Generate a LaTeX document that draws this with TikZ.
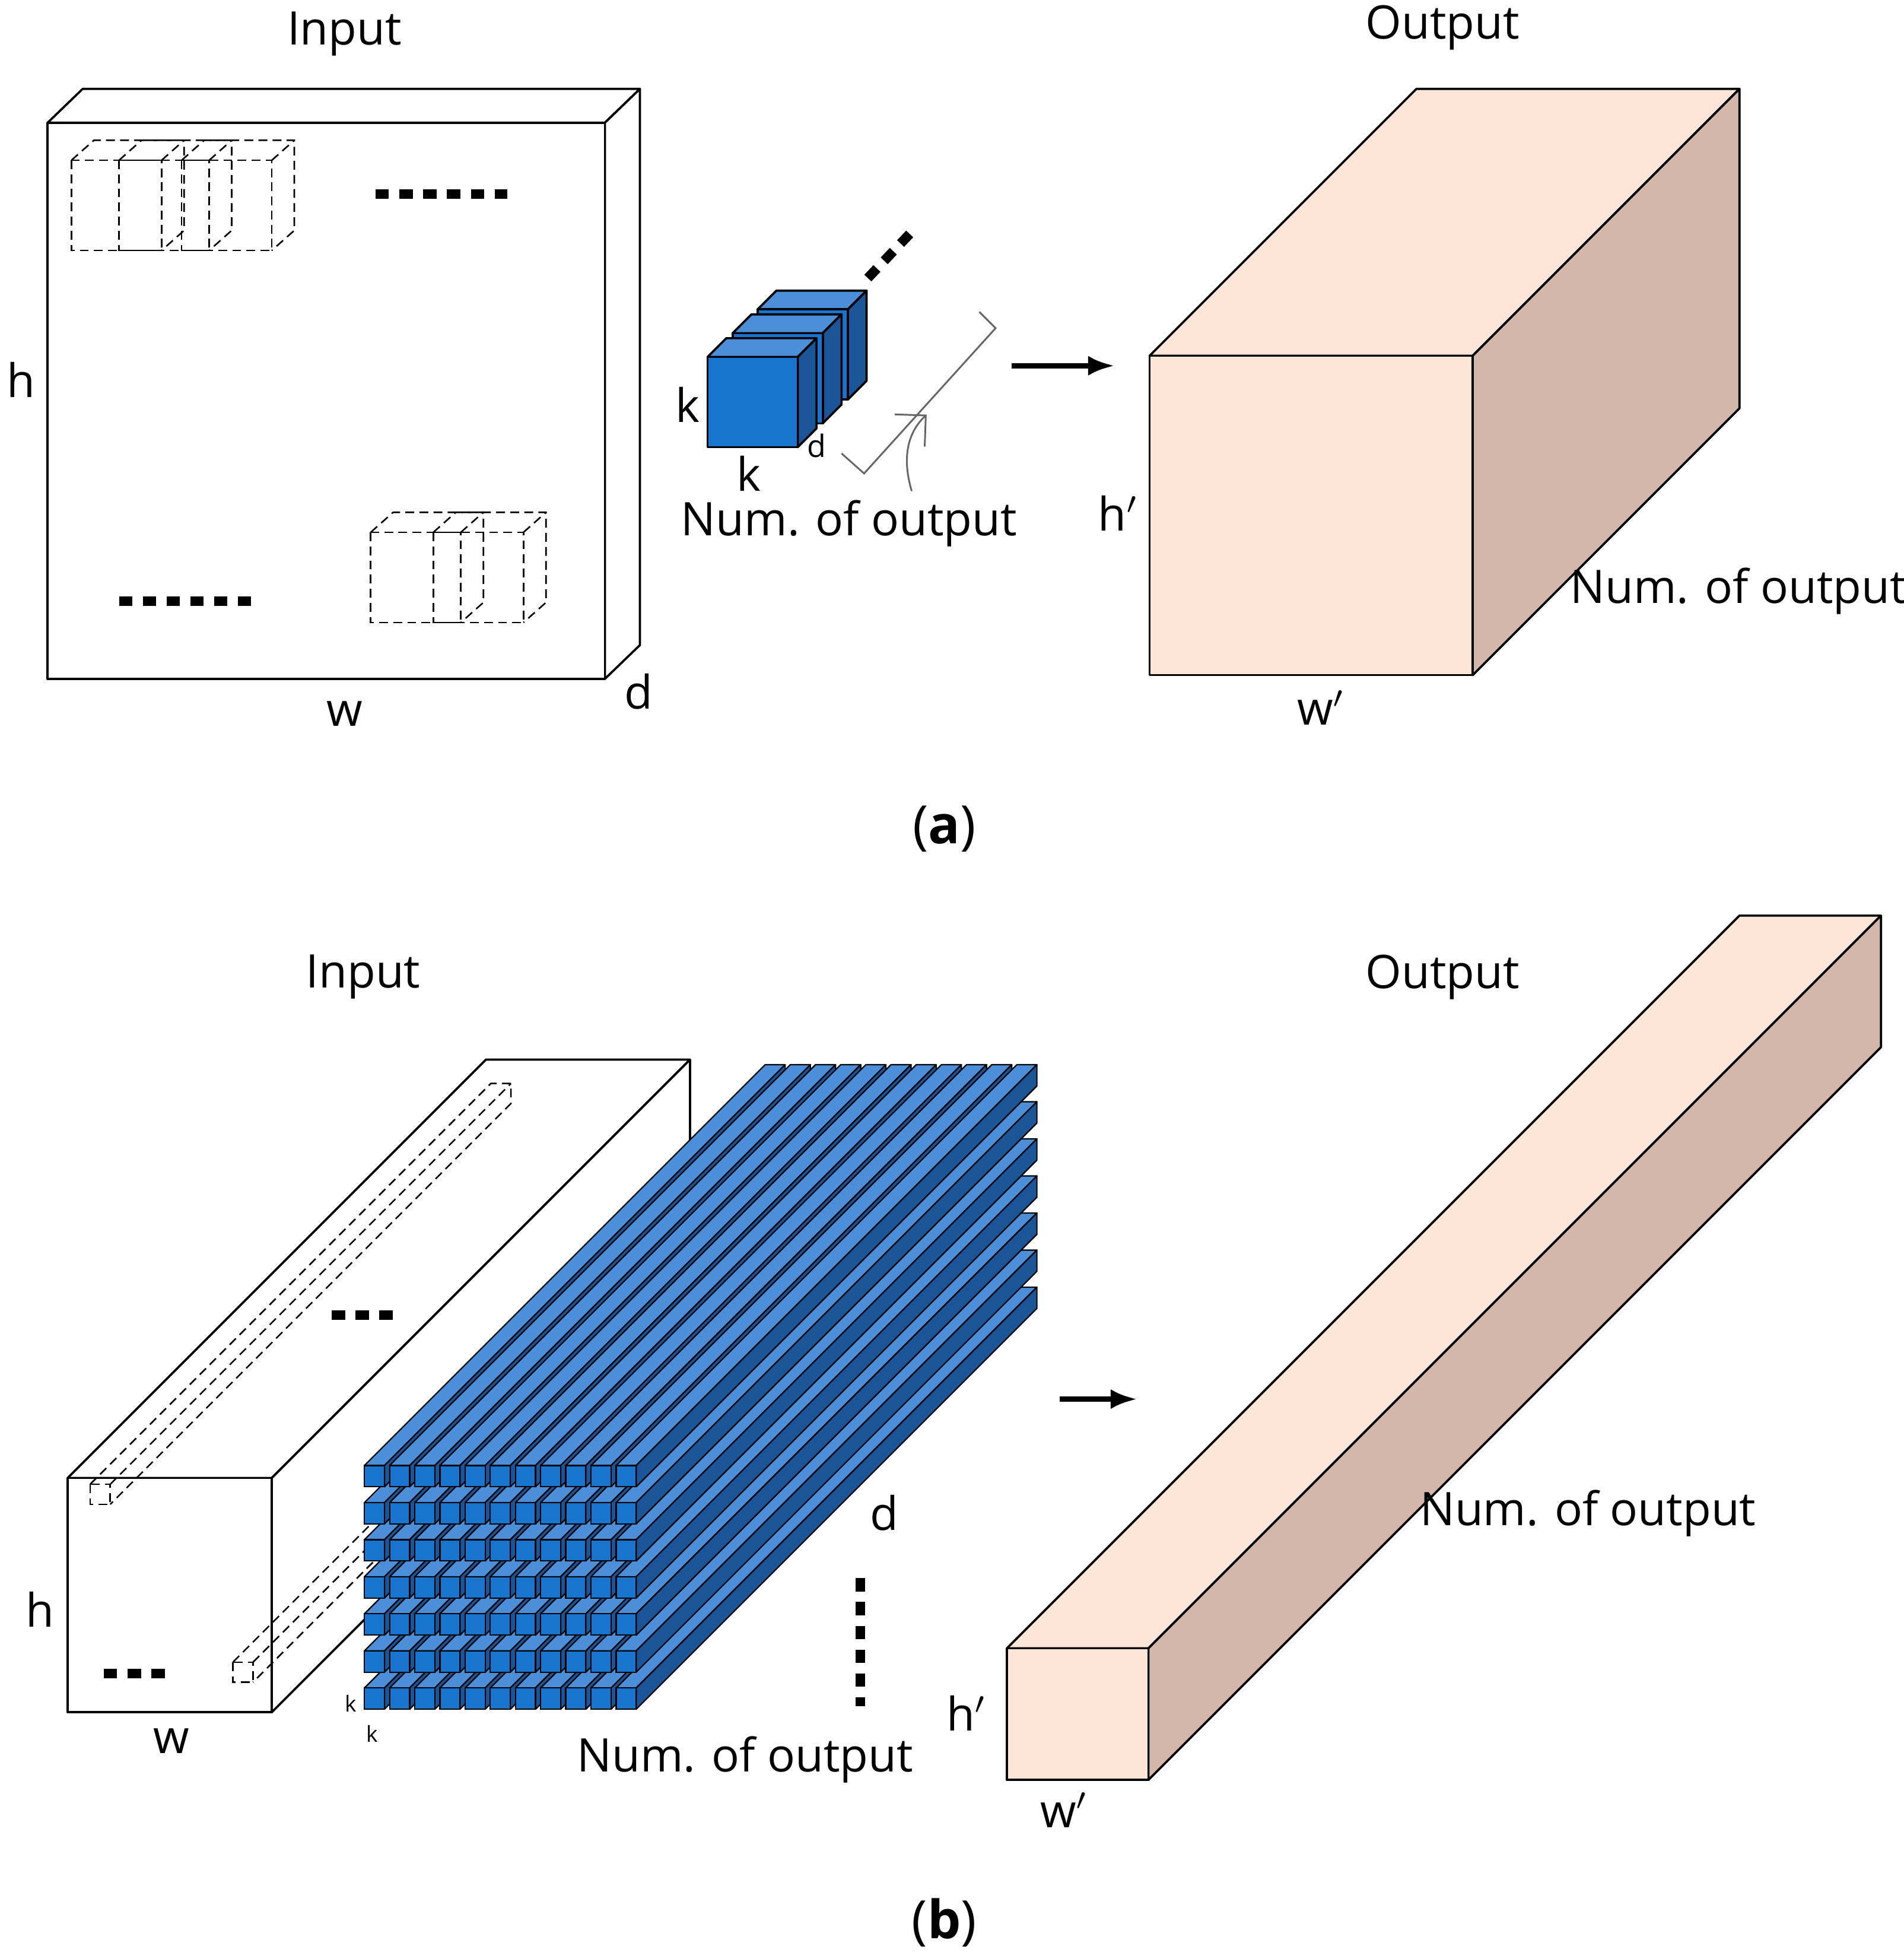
\documentclass[tikz,border=0pt]{standalone}
\usepackage{fontspec}
\setmainfont{Open Sans}
\usetikzlibrary{arrows.meta}
\definecolor{bfront}{HTML}{1874CD}
\definecolor{btop}{HTML}{4D8ED8}
\definecolor{bside}{HTML}{1B5597}
\definecolor{pfront}{HTML}{FDE5D8}
\definecolor{pside}{HTML}{D2B7AA}
\begin{document}
\begin{tikzpicture}[x=0.01cm,y=-0.01cm,
  lbl/.style={font=\fontsize{10.5}{12}\selectfont,inner sep=0pt},
  sm/.style={font=\fontsize{7}{8}\selectfont,inner sep=0pt},
  tiny/.style={font=\fontsize{5}{6}\selectfont,inner sep=0pt},
  edge/.style={line width=0.5pt,line join=round},
  dsh/.style={dashed,line width=0.35pt,dash pattern=on 2pt off 1.2pt},
  dots/.style={line width=2.2pt,dash pattern=on 3pt off 2.4pt},
  captxt/.style={font=\fontsize{12}{14}\selectfont,inner sep=0pt}]
\useasboundingbox (0,0) rectangle (1520,1564);
% ---------- (a) ----------
\node[lbl] (inA) at (275,27) {Input};
\draw[edge,fill=white] (38,98)--(66,71)--(511,71)--(483,98)--cycle;
\draw[edge,fill=white] (483,98)--(511,71)--(511,515)--(483,542)--cycle;
\draw[edge,fill=white] (38,98) rectangle (483,542);
\node[lbl] (hA) at (17,303) {h};
\node[lbl] (wA) at (275,570) {w};
\node[lbl] (dA) at (510,552) {d};
\foreach \x/\y in {57/128,95/128,145/128,296/425,346/425}{
  \draw[dsh] (\x,\y) rectangle ++(72,72);
  \draw[dsh] (\x,\y)--++(18,-16)--++(72,0)--++(0,72)--++(-18,16);
  \draw[dsh] (\x+72,\y)--++(18,-16);
}
\draw[dots] (300,155)--(405,155);
\draw[dots] (95,480)--(202,480);
% kernels
\foreach \i in {2,1,0}{
  \pgfmathsetmacro{\ox}{565+20*\i}\pgfmathsetmacro{\oy}{285-19*\i}
  \draw[edge,fill=btop] (\ox,\oy)--++(15,-15)--++(72,0)--++(-15,15)--cycle;
  \draw[edge,fill=bside] (\ox+72,\oy)--++(15,-15)--++(0,72)--++(-15,15)--cycle;
  \draw[edge,fill=bfront] (\ox,\oy) rectangle ++(72,72);
}
\node[lbl] (kA1) at (549,323) {k};
\node[lbl] (kA2) at (598,378) {k};
\node[sm] (dk) at (652,356) {d};
\draw[dots] (693,222)--(730,183);
\draw[line width=0.4pt,gray!80!black] (782,249)--(795,262)--(690,378)--(672,362);
\draw[line width=0.4pt,gray!80!black,-{Straight Barb[length=5pt]}] (728,392) .. controls (720,365) and (725,345) .. (740,331);
\node[lbl] (numA) at (678,418) {Num. of output};
\coordinate (arA1) at (808,292); \coordinate (arA2) at (890,292);
\draw[line width=1.2pt,-{Latex[length=6pt]}] (arA1)--(arA2);
\node[lbl] (outA) at (1152,22) {Output};
\draw[edge,fill=pfront] (918,284)--(1131,71)--(1389,71)--(1176,284)--cycle;
\draw[edge,fill=pside] (1176,284)--(1389,71)--(1389,326)--(1176,539)--cycle;
\draw[edge,fill=pfront] (918,284) rectangle (1176,539);
\node[lbl] (hpA) at (893,410) {h$'$};
\node[lbl] (wpA) at (1055,565) {w$'$};
\node[lbl] (numA2) at (1388,472) {Num. of output};
\node[captxt] (capa) at (754,662) {(\textbf{a})};
% ---------- (b) ----------
\node[lbl] (inB) at (290,780) {Input};
\draw[edge,fill=white] (54,1180)--(388,846)--(551,846)--(217,1180)--cycle;
\draw[edge,fill=white] (217,1180)--(551,846)--(551,1033)--(217,1367)--cycle;
\draw[edge,fill=white] (54,1180) rectangle (217,1367);
\foreach \x/\y/\L in {72/1185/320,186/1327/140}{
  \draw[dsh] (\x,\y) rectangle ++(16,16);
  \draw[dsh] (\x,\y)--++(\L,-\L)--++(16,0)--++(0,16)--++(-\L,\L);
  \draw[dsh] (\x+16,\y)--++(\L,-\L);
}
\draw[dots] (265,1050)--(318,1050);
\draw[dots] (83,1336)--(135,1336);
\node[lbl] (hB) at (32,1285) {h};
\node[lbl] (wB) at (137,1390) {w};
% rods
\foreach \i in {6,5,...,0}{
  \foreach \j in {0,...,10}{
    \pgfmathsetmacro{\ox}{291+20.1*\j}\pgfmathsetmacro{\oy}{1170+29.6*\i}
    \draw[line width=0.3pt,line join=round,fill=btop] (\ox,\oy)--++(320,-320)--++(16,0)--++(-320,320)--cycle;
    \draw[line width=0.3pt,line join=round,fill=bside] (\ox+16,\oy)--++(320,-320)--++(0,17)--++(-320,320)--cycle;
    \draw[line width=0.3pt,fill=bfront] (\ox,\oy) rectangle ++(16,17);
  }
}
\node[tiny] (kB1) at (280,1360) {k};
\node[tiny] (kB2) at (297,1384) {k};
\node[lbl] (dB) at (706,1208) {d};
\draw[dots] (687,1260)--(687,1362);
\node[lbl] (numB) at (595,1405) {Num. of output};
\coordinate (arB1) at (846,1117); \coordinate (arB2) at (908,1117);
\draw[line width=1.2pt,-{Latex[length=6pt]}] (arB1)--(arB2);
\node[lbl] (outB) at (1152,780) {Output};
\draw[edge,fill=pfront] (804,1316)--(1389,731)--(1502,731)--(917,1316)--cycle;
\draw[edge,fill=pside] (917,1316)--(1502,731)--(1502,836)--(917,1421)--cycle;
\draw[edge,fill=pfront] (804,1316) rectangle (917,1421);
\node[lbl] (hpB) at (772,1368) {h$'$};
\node[lbl] (wpB) at (850,1445) {w$'$};
\node[lbl] (numB2) at (1268,1208) {Num. of output};
\node[captxt] (capb) at (754,1535) {(\textbf{b})};
\end{tikzpicture}
\end{document}
